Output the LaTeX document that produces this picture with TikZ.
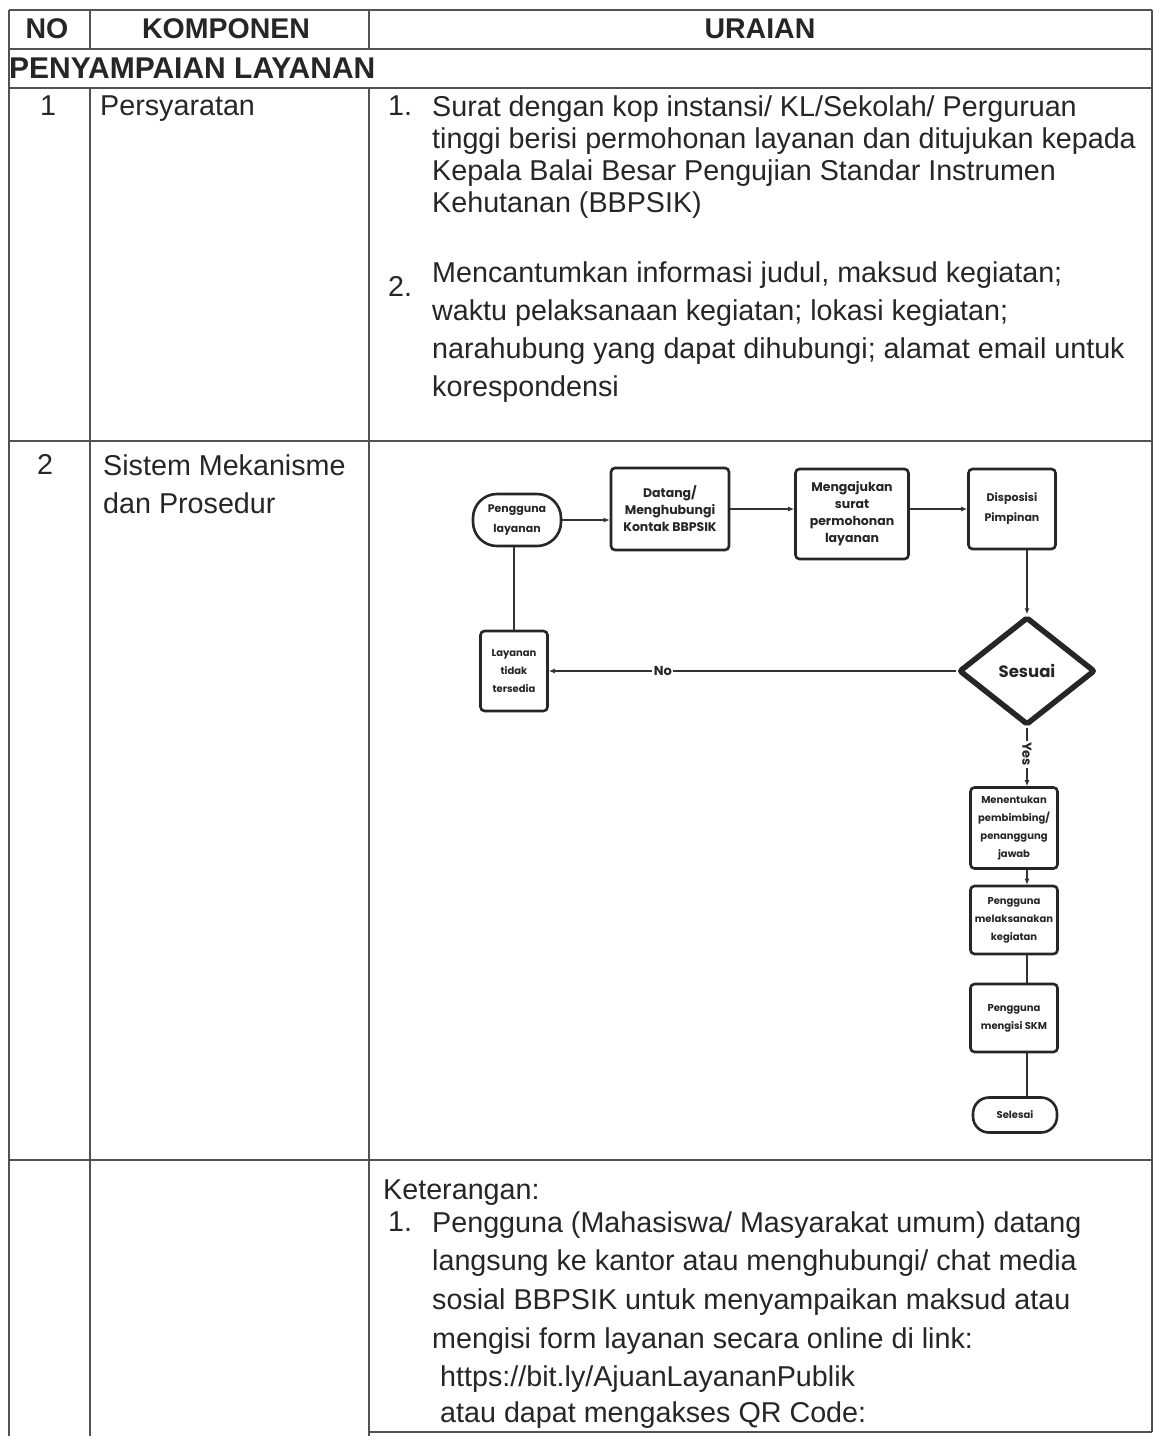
\documentclass[tikz,border=0pt]{standalone}
\usepackage{fontspec}
\setmainfont{Liberation Sans}
\newfontfamily\flowfont{Poppins}
\usetikzlibrary{shapes.geometric,arrows.meta}

\tikzset{
  gridline/.style = {draw=black!68, line width=1.5pt},
  cell/.style     = {inner sep=0pt, text=black!85, font=\fontsize{28.7}{32}\selectfont},
  headcell/.style = {cell, font=\bfseries\fontsize{28.5}{32}\selectfont},
  para/.style     = {cell, anchor=north west, align=left},
  proc/.style     = {draw=black!85, line width=2.6pt, rounded corners=4pt, align=center,
                     inner sep=2pt, text=black!85, font=\flowfont\bfseries\fontsize{12.5}{17}\selectfont},
  smallproc/.style= {proc, font=\flowfont\bfseries\fontsize{10}{18}\selectfont},
  term/.style     = {smallproc, rounded corners=#1},
  decide/.style   = {proc, diamond, line width=5.5pt, rounded corners=2pt,
                     font=\flowfont\bfseries\fontsize{16.5}{18}\selectfont},
  flow/.style     = {draw=black!80, line width=1.1pt},
  flowarr/.style  = {flow, -{Latex[length=6pt,width=5pt]}},
  flowlbl/.style  = {fill=white, inner sep=1.5pt, text=black!85,
                     font=\flowfont\bfseries\fontsize{13}{14}\selectfont}
}

\begin{document}
\begin{tikzpicture}[x=1pt, y=-1pt]
\fill[white] (0,0) rectangle (1155,1436);
\useasboundingbox (0,0) rectangle (1155,1436);

% table rules
\draw[gridline] (9,10) -- (1152,10);
\draw[gridline] (9,49) -- (1152,49);
\draw[gridline] (9,88) -- (1152,88);
\draw[gridline] (9,441) -- (1152,441);
\draw[gridline] (9,1160) -- (1152,1160);
\draw[gridline] (369,1432) -- (1152,1432);
\draw[gridline] (9,10) -- (9,1436);
\draw[gridline] (90,10) -- (90,49);
\draw[gridline] (90,88) -- (90,1436);
\draw[gridline] (369,10) -- (369,49);
\draw[gridline] (369,88) -- (369,1436);
\draw[gridline] (1152,10) -- (1152,1432);

% header and rows
\node[headcell] (hNo) at (47,29) {NO};
\node[headcell] (hKomp) at (226,29) {KOMPONEN};
\node[headcell] (hUraian) at (760,29) {URAIAN};
\node[headcell, anchor=base west, font=\bfseries\fontsize{30}{32}\selectfont] (sect) at (9,78) {PENYAMPAIAN LAYANAN};

\node[cell, anchor=base] (no1) at (48,115) {1};
\node[cell, anchor=base west] (komp1) at (100,115) {Persyaratan};
\node[cell, anchor=base west] (r1an) at (388,115) {1.};
\node[para] (r1a) at (432,95) {Surat dengan kop instansi/ KL/Sekolah/ Perguruan\\
  tinggi berisi permohonan layanan dan ditujukan kepada\\
  Kepala Balai Besar Pengujian Standar Instrumen\\
  Kehutanan (BBPSIK)};
\node[cell, anchor=base west] (r1bn) at (388,296) {2.};
\node[para, font=\fontsize{28.7}{38}\selectfont] (r1b) at (432,261) {Mencantumkan informasi judul, maksud kegiatan;\\
  waktu pelaksanaan kegiatan; lokasi kegiatan;\\
  narahubung yang dapat dihubungi; alamat email untuk\\
  korespondensi};

\node[cell, anchor=base] (no2) at (45,474) {2};
\node[para, font=\fontsize{28.7}{38}\selectfont] (komp2) at (103,454) {Sistem Mekanisme\\dan Prosedur};

\node[cell, anchor=base west] (ket) at (383,1199) {Keterangan:};
\node[cell, anchor=base west] (ketn) at (388,1231) {1.};
\node[para, font=\fontsize{28.7}{38.7}\selectfont] (keta) at (432,1211) {Pengguna (Mahasiswa/ Masyarakat umum) datang\\
  langsung ke kantor atau menghubungi/ chat media\\
  sosial BBPSIK untuk menyampaikan maksud atau\\
  mengisi form layanan secara online di link:};
\node[para, font=\fontsize{28.7}{36}\selectfont] (ketlink) at (440,1365) {https://bit.ly/AjuanLayananPublik\\
  atau dapat mengakses QR Code:};

% flowchart
\node[term=24pt, minimum width=88pt, minimum height=52pt, font=\flowfont\bfseries\fontsize{11}{20}\selectfont] (pengguna) at (517,520) {Pengguna\\layanan};
\node[proc, minimum width=118pt, minimum height=82pt] (datang) at (670,509) {Datang/\\Menghubungi\\Kontak BBPSIK};
\node[proc, minimum width=113pt, minimum height=90pt] (ajukan) at (852,514) {Mengajukan\\surat\\permohonan\\layanan};
\node[smallproc, minimum width=87pt, minimum height=80pt, font=\flowfont\bfseries\fontsize{11}{20}\selectfont] (disposisi) at (1012,509) {Disposisi\\Pimpinan};
\node[decide, minimum width=136pt, minimum height=108pt] (sesuai) at (1027,671) {Sesuai};
\node[smallproc, minimum width=67pt, minimum height=80pt] (tidaksedia) at (514,671) {Layanan\\tidak\\tersedia};
\node[smallproc, minimum width=87pt, minimum height=81pt] (tentukan) at (1014,828) {Menentukan\\pembimbing/\\penanggung\\jawab};
\node[smallproc, minimum width=87pt, minimum height=68pt] (laksana) at (1014,920) {Pengguna\\melaksanakan\\kegiatan};
\node[smallproc, minimum width=87pt, minimum height=68pt] (skm) at (1014,1018) {Pengguna\\mengisi SKM};
\node[term=16pt, minimum width=84pt, minimum height=35pt] (selesai) at (1015,1115) {Selesai};

\draw[flowarr] (pengguna.east) -- (pengguna.east -| datang.west);
\draw[flowarr] (datang.east) -- (datang.east -| ajukan.west);
\draw[flowarr] (ajukan.east |- datang.east) -- (disposisi.west |- datang.east);
\draw[flowarr] (disposisi.south -| sesuai.north) -- (sesuai.north);
\draw[flowarr] (sesuai.west) -- node[flowlbl, pos=0.72] {No} (tidaksedia.east);
\draw[flow] (tidaksedia.north) -- (tidaksedia.north |- pengguna.south);
\draw[flowarr] (sesuai.south) -- node[flowlbl, rotate=-90, pos=0.45] {Yes} (sesuai.south |- tentukan.north);
\draw[flowarr] (tentukan.south -| sesuai.south) -- (laksana.north -| sesuai.south);
\draw[flow] (laksana.south -| sesuai.south) -- (skm.north -| sesuai.south);
\draw[flow] (skm.south -| sesuai.south) -- (selesai.north -| sesuai.south);
\end{tikzpicture}
\end{document}
